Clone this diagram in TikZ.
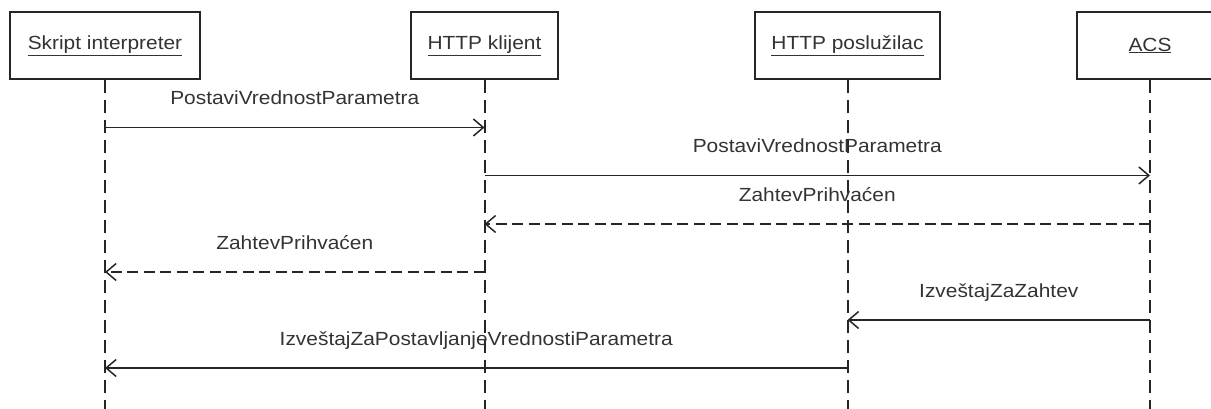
\documentclass[tikz,border=0pt]{standalone}
\usepackage{fontspec}
\setmainfont[FakeStretch=1.1]{Liberation Sans}
\usetikzlibrary{arrows.meta}

\tikzset{
  actor/.style={draw=black!85, line width=2pt, fill=white, minimum height=67pt,
    inner sep=0pt, font=\fontsize{19}{22}\selectfont, text=black!80},
  lifeline/.style={draw=black!85, line width=2pt, dash pattern=on 13pt off 7pt},
  msg/.style={draw=black!85, line width=1.8pt, -{Straight Barb[length=10pt,width=17pt,line width=1.5pt]}},
  reply/.style={msg, dash pattern=on 11pt off 5.5pt},
  msglabel/.style={midway, anchor=base, yshift=22.5pt, font=\fontsize{19}{22}\selectfont, text=black!80}
}

\begin{document}
\begin{tikzpicture}[x=1pt, y=-1pt]
  \useasboundingbox (0,0) rectangle (1211,409);
  \clip (0,0) rectangle (1211,409);

  % participants
  \node[actor, minimum width=190pt] (si)   at (105,45.5)    {\underline{Skript interpreter}};
  \node[actor, minimum width=147pt] (hk)   at (484.5,45.5)  {\underline{HTTP klijent}};
  \node[actor, minimum width=185pt] (hp)   at (847.5,45.5)  {\underline{HTTP poslužilac}};
  \node[actor, minimum width=146pt] (acs)  at (1150,45.5)   {\underline{ACS}};

  % lifeline ends
  \coordinate (siEnd)  at (si.south  |- 0,412);
  \coordinate (hkEnd)  at (hk.south  |- 0,412);
  \coordinate (hpEnd)  at (hp.south  |- 0,412);
  \coordinate (acsEnd) at (acs.south |- 0,412);

  \draw[lifeline] (si.south)  -- (siEnd);
  \draw[lifeline] (hk.south)  -- (hkEnd);
  \draw[lifeline] (hp.south)  -- (hpEnd);
  \draw[lifeline] (acs.south) -- (acsEnd);

  % messages
  \draw[msg]   (si.south  |- 0,127.5) -- (hk.south  |- 0,127.5) node[msglabel] {PostaviVrednostParametra};
  \draw[msg]   (hk.south  |- 0,175.5) -- (acs.south |- 0,175.5) node[msglabel] {PostaviVrednostParametra};
  \draw[reply] (acs.south |- 0,224)   -- (hk.south  |- 0,224)   node[msglabel] {ZahtevPrihvaćen};
  \draw[reply] (hk.south  |- 0,272)   -- (si.south  |- 0,272)   node[msglabel] {ZahtevPrihvaćen};
  \draw[msg]   (acs.south |- 0,320)   -- (hp.south  |- 0,320)   node[msglabel] {IzveštajZaZahtev};
  \draw[msg]   (hp.south  |- 0,368)   -- (si.south  |- 0,368)   node[msglabel] {IzveštajZaPostavljanjeVrednostiParametra};
\end{tikzpicture}
\end{document}
